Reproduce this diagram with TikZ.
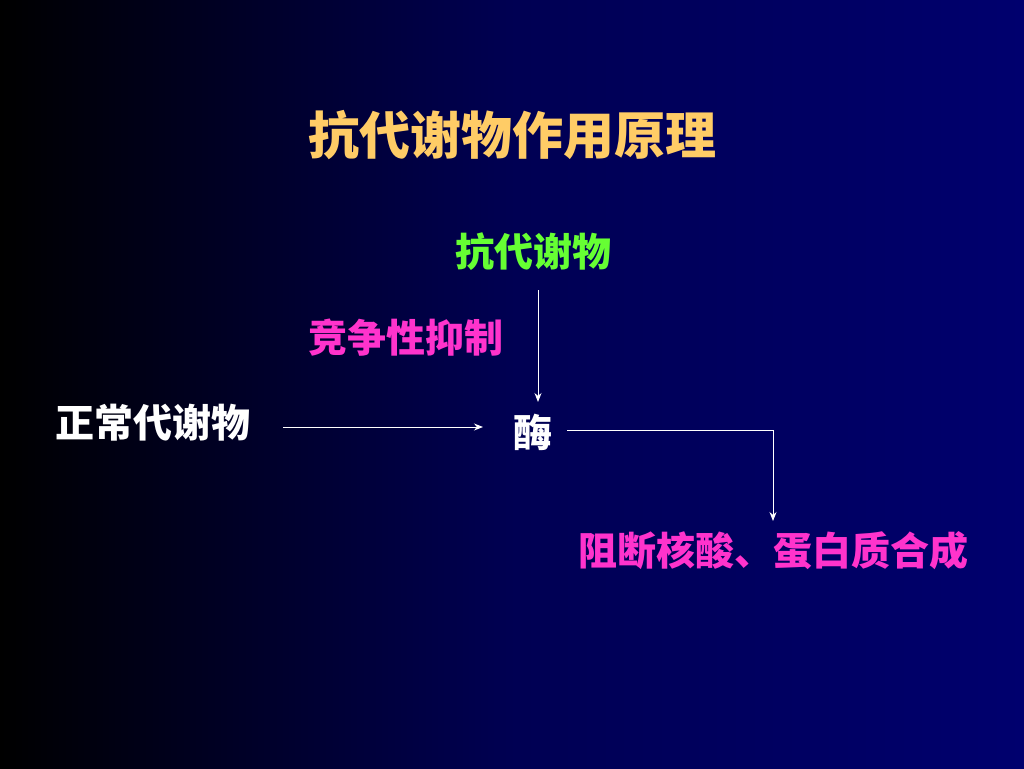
\documentclass[tikz,border=0pt]{standalone}
\usepackage{fontspec}
\usetikzlibrary{arrows.meta}
\newfontfamily\cjk{Noto Sans CJK SC}
\definecolor{ttl}{RGB}{255,204,102}
\definecolor{grn}{RGB}{102,255,51}
\definecolor{mag}{RGB}{255,51,204}
\definecolor{navy}{RGB}{0,0,110}
\begin{document}
\begin{tikzpicture}[x=1pt,y=-1pt,
  lbl/.style={font=\cjk\fontsize{39}{44}\selectfont\bfseries, inner sep=0pt},
  arr/.style={draw=white, line width=1pt, -{Stealth[length=9pt,width=7pt]}}]
\shade[left color=black, right color=navy, middle color=navy!75!black] (0,0) rectangle (1024,768);
\useasboundingbox (0,0) rectangle (1024,768);
\node[lbl, text=ttl, font=\cjk\fontsize{51}{56}\selectfont\bfseries] (t) at (512,135) {抗代谢物作用原理};
\node[lbl, text=grn] (a) at (533,252) {抗代谢物};
\node[lbl, text=mag] (c) at (406,338) {竞争性抑制};
\node[lbl, text=white] (n) at (153,423) {正常代谢物};
\node[lbl, text=white] (e) at (533,432) {酶};
\node[lbl, text=mag] (r) at (773,551) {阻断核酸、蛋白质合成};
\coordinate (v1) at (538,290);
\coordinate (v2) at (538,402);
\draw[arr] (v1) -- (v2);
\coordinate (h1) at (283,427);
\coordinate (h2) at (483,427);
\draw[arr] (h1) -- (h2);
\coordinate (k1) at (567,430);
\coordinate (k2) at (773,430);
\coordinate (k3) at (773,521);
\draw[arr] (k1) -- (k2) -- (k3);
\end{tikzpicture}
\end{document}
